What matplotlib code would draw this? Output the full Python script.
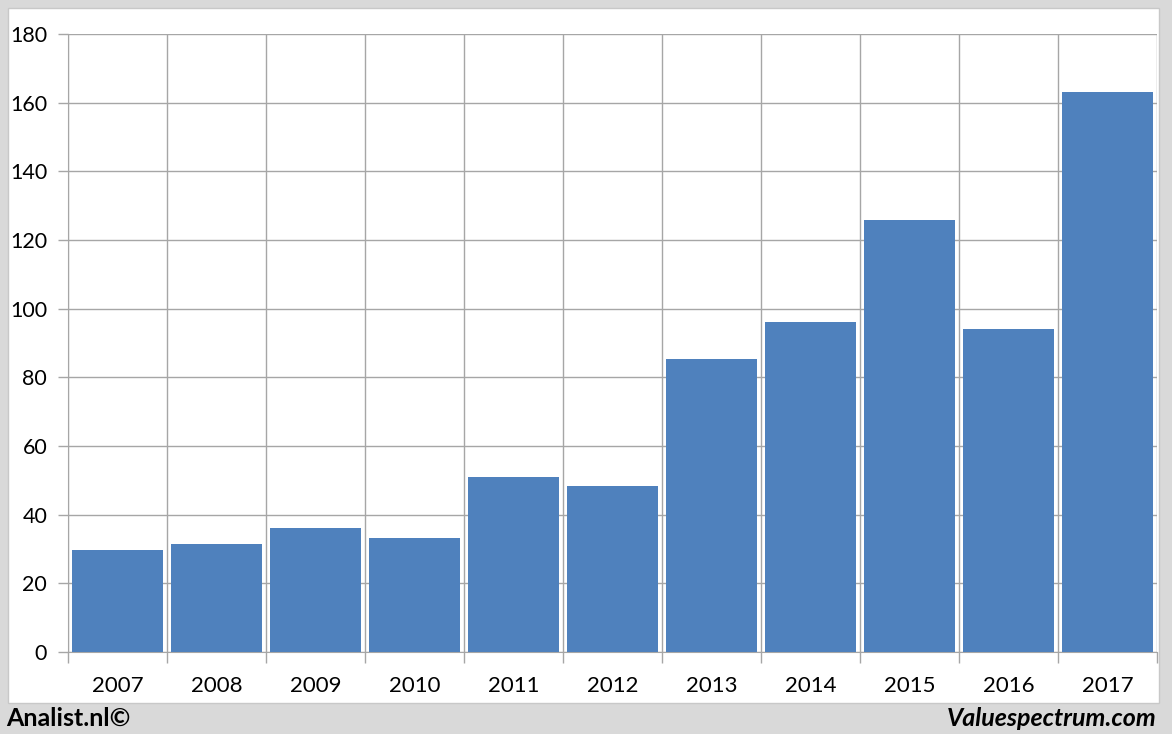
import numpy as np
import matplotlib.pyplot as plt
from matplotlib.patches import Rectangle

years = ['2007', '2008', '2009', '2010', '2011', '2012', '2013', '2014', '2015', '2016', '2017']
values = [29.7, 31.5, 36.1, 33.2, 51.0, 48.4, 85.3, 96.1, 125.8, 94.1, 163.2]
yticks = [0, 20, 40, 60, 80, 100, 120, 140, 160, 180]

plt.rcParams['font.family'] = ['Lato', 'DejaVu Sans']

fig = plt.figure(figsize=(11.72, 7.34), dpi=100)
fig.patch.set_facecolor('#d9d9d9')
W, H = 1172, 734
fig.patches.append(Rectangle((8 / W, 1 - 703 / H), (1159 - 8) / W, (703 - 8) / H,
                             transform=fig.transFigure, facecolor='white',
                             edgecolor='#c8c8c8', lw=1, zorder=-10))

ax = fig.add_axes([68 / W, 1 - 652 / H, (1157 - 68) / W, (652 - 34) / H])
ax.set_facecolor('none')
x = np.arange(len(years))
ax.bar(x, values, width=0.92, color='#4f81bd', zorder=3)

ax.set_xlim(-0.5, len(years) - 0.5)
ax.set_ylim(0, 180)
ax.set_yticks(yticks)
ax.set_xticks(x)
ax.set_xticklabels(years)
ax.set_xticks(np.arange(-0.5, len(years)), minor=True)

ax.grid(axis='y', color='#a6a6a6', lw=1, zorder=0)
ax.grid(axis='x', which='minor', color='#a6a6a6', lw=1, zorder=0)
ax.tick_params(axis='x', which='major', length=0, pad=17, labelsize=16)
ax.tick_params(axis='x', which='minor', length=8, color='#a6a6a6', width=1)
ax.tick_params(axis='y', length=7, color='#a6a6a6', width=1, pad=8, labelsize=15.5)
for s in ['top', 'right']:
    ax.spines[s].set_visible(False)
ax.spines['left'].set_color('#a6a6a6')
ax.spines['bottom'].set_color('#a6a6a6')

fig.text(6 / W, 1 - 718 / H, 'Analist.nl\u00a9', fontsize=18, fontweight='bold',
         va='center', ha='left')
fig.text(1157 / W, 1 - 718 / H, 'Valuespectrum.com', fontsize=18, fontweight='bold',
         style='italic', va='center', ha='right')

fig.savefig('out.png', dpi=100, facecolor=fig.get_facecolor())
